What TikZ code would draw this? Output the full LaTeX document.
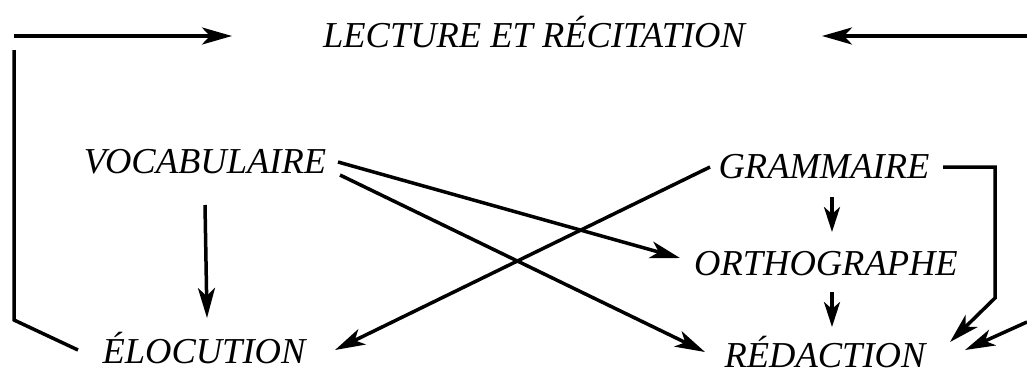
\documentclass[tikz,border=0pt]{standalone}
\usepackage{fontspec}
\setmainfont{Liberation Serif}
\usetikzlibrary{arrows.meta,calc}
\tikzset{
  label/.style={font=\fontsize{36.5}{38}\selectfont\itshape, inner sep=0pt, anchor=base,
    text height=25pt, text depth=0pt},
  short/.style={-{Stealth[length=25pt,width=16pt,inset=7pt]}},
}
\begin{document}
\begin{tikzpicture}[x=1pt,y=-1pt,>={Stealth[length=30pt,width=17pt,inset=8pt]},line width=3.5pt, line join=miter]
	\useasboundingbox (0,0) rectangle (1027,370);
	% les matières
	\node[label] (lecture) at (534,47) {LECTURE ET RÉCITATION};
	\node[label] (vocab) at (205,173) {VOCABULAIRE};
	\node[label] (gram) at (824,178) {GRAMMAIRE};
	\node[label] (ortho) at (826,275) {ORTHOGRAPHE};
	\node[label] (eloc) at (204,363) {ÉLOCUTION};
	\node[label] (redac) at (825,367) {RÉDACTION};
	% bords
	\coordinate (gh) at (14,36); \coordinate (gb) at (14,320);
	\coordinate (dh) at (1027,36); \coordinate (db) at (1027,322);
	\draw[->] (gh)--($(lecture.base)+(-302,-11)$);
	\draw[->] (dh)--($(lecture.base)+(288,-11)$);
	\draw ($(eloc.base)+(-126,-13)$)--(gb)--($(gh)+(0,14)$);
	% flèches
	\draw[->] ($(vocab.base)+(0,32)$)--($(eloc.base)+(3,-45)$);
	\draw[->] ($(vocab.base)+(133,-11)$)--($(ortho.base)+(-146,-17)$);
	\draw[->] ($(vocab.base)+(135,2)$)--($(redac.base)+(-120,-15)$);
	\draw[->] ($(gram.base)+(-114,-11)$)--($(eloc.base)+(131,-13)$);
	\draw[short] ($(gram.base)+(8,19)$)--($(ortho.base)+(6,-43)$);
	\draw[short] ($(ortho.base)+(6,17)$)--($(redac.base)+(7,-40)$);
	\draw[->] ($(gram.base)+(119,-11)$)-|($(gram.base)+(171,120)$)--($(redac.base)+(125,-25)$);
	\draw[->] (db)--($(redac.base)+(140,-17)$);
\end{tikzpicture}
\end{document}
